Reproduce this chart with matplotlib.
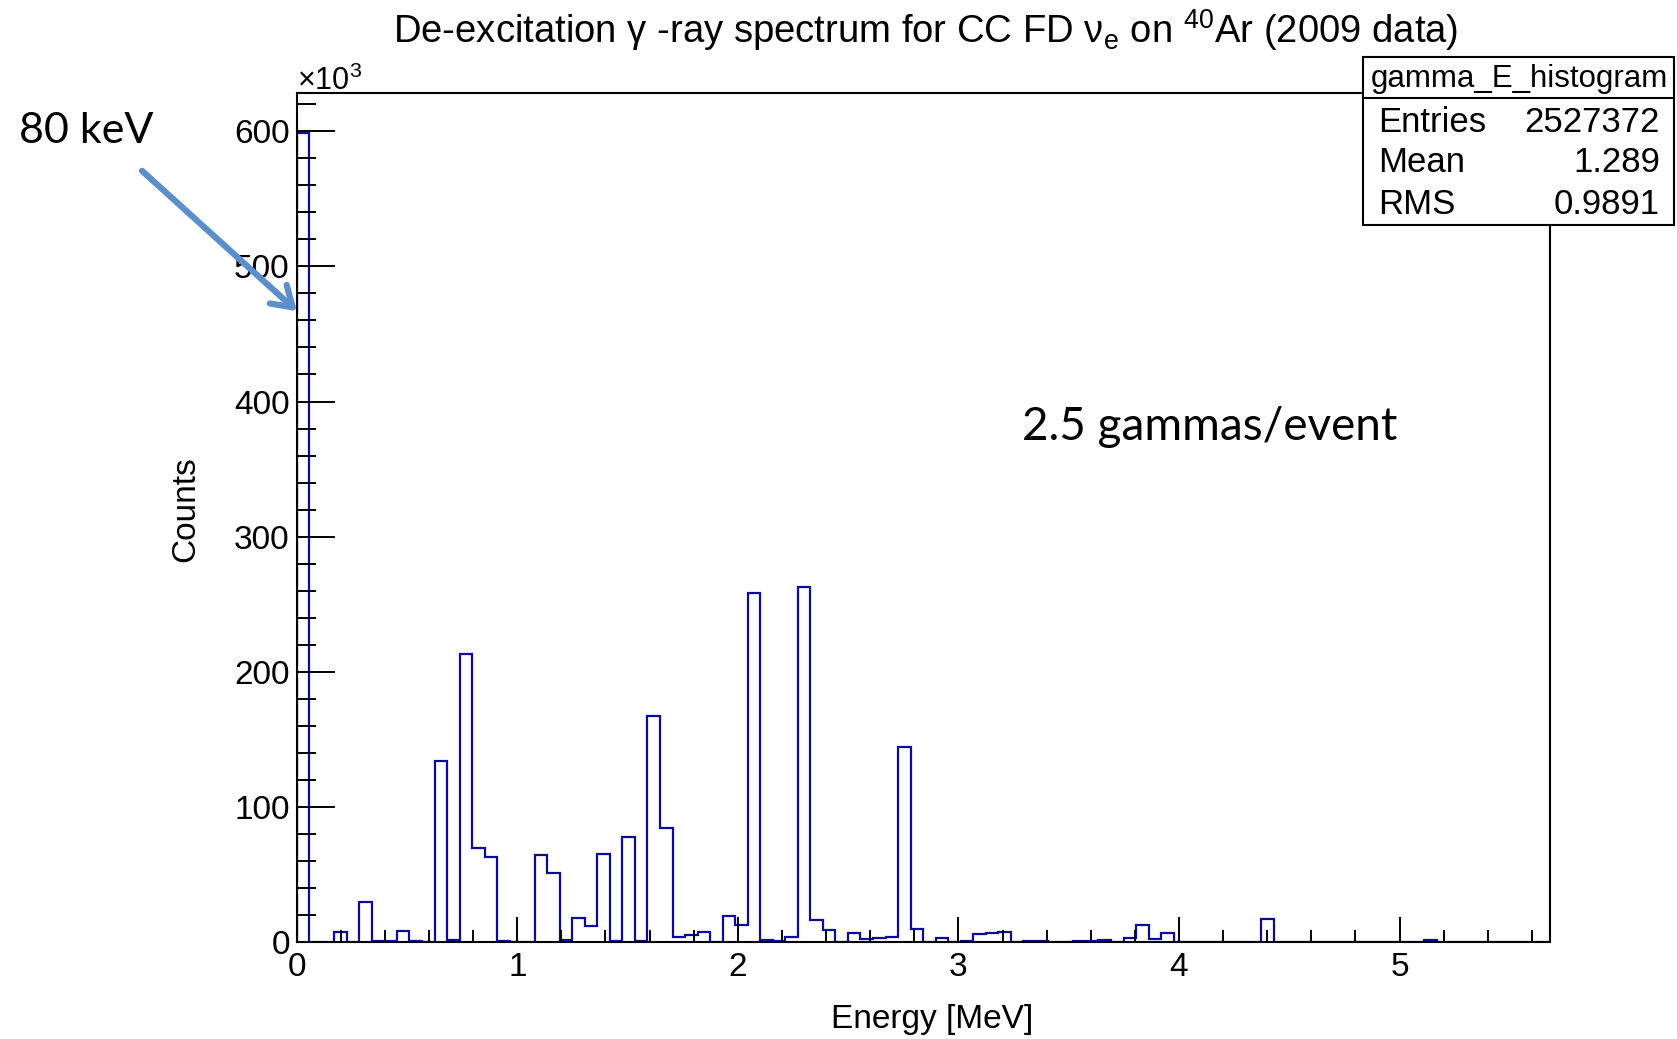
import numpy as np
import matplotlib
matplotlib.use("Agg")
import matplotlib.pyplot as plt
from matplotlib.ticker import MultipleLocator
from matplotlib.patches import Rectangle, FancyArrowPatch

plt.rcParams['font.family'] = ['Liberation Sans', 'DejaVu Sans']
plt.rcParams['mathtext.fontset'] = 'custom'
plt.rcParams['mathtext.rm'] = 'Liberation Sans'
plt.rcParams['mathtext.it'] = 'Liberation Sans'
plt.rcParams['mathtext.default'] = 'regular'

# histogram: 100 bins from 0 to 5.68 MeV, counts in units of 10^3
e_min, e_max, n_bins = 0.0, 5.68, 100
counts_k = [
    599, 0, 0, 7.4, 0, 29.6, 1, 1, 8.4, 1,
    0, 134.2, 1.5, 213.4, 70, 63.4, 1, 0, 0.5, 64.8,
    51.5, 1.5, 18, 12, 65, 1, 77.7, 1, 167.5, 84.6,
    3.7, 5.6, 7.6, 0, 19.5, 13, 258.3, 1.5, 1.2, 3.7,
    262.5, 16.3, 9.4, 0, 6.7, 2.5, 3.2, 4.2, 144.3, 9.9,
    0, 3.2, 0.5, 1.2, 6.4, 7.2, 7.4, 0, 0.7, 0.7,
    0.5, 0, 1, 1.2, 1.7, 0, 3, 12.8, 2.5, 7.2,
    0.3, 0, 0, 0, 0, 0, 0.5, 17.3, 0, 0,
    0, 0, 0, 0, 0, 0, 0, 0, 0, 0,
    1.5, 0, 0, 0, 0, 0, 0, 0, 0, 0,
]
y_max = 628

stats_name = "gamma_E_histogram"
stats_labels = ["Entries", "Mean", "RMS"]
stats_values = ["2527372", "1.289", "0.9891"]

W, H = 1677, 1039
fig = plt.figure(figsize=(W / 100, H / 100), dpi=100)
ax = fig.add_axes([296.7 / W, 1 - 942.3 / H, (1549.5 - 296.7) / W, (942.3 - 93.3) / H])

edges = np.linspace(e_min, e_max, n_bins + 1)
ax.stairs(counts_k, edges, color='#0a0aa0', linewidth=1.6, baseline=0)

ax.set_xlim(e_min, e_max)
ax.set_ylim(0, y_max)
ax.xaxis.set_major_locator(MultipleLocator(1))
ax.xaxis.set_minor_locator(MultipleLocator(0.2))
ax.yaxis.set_major_locator(MultipleLocator(100))
ax.yaxis.set_minor_locator(MultipleLocator(20))
ax.tick_params(axis='x', which='major', direction='in', length=18, width=1.4, labelsize=24, pad=7)
ax.tick_params(axis='x', which='minor', direction='in', length=9, width=1.4)
ax.tick_params(axis='y', which='major', direction='in', length=27, width=1.4, labelsize=24, pad=5)
ax.tick_params(axis='y', which='minor', direction='in', length=13.5, width=1.4)
for s in ax.spines.values():
    s.set_linewidth(1.5)

ax.set_xlabel("Energy [MeV]", fontsize=24)
ax.xaxis.set_label_coords(0.507, -0.073)
ax.set_ylabel("Counts", fontsize=24)
ax.yaxis.set_label_coords(-0.076, 0.51)
ax.text(0.0, 1.004, r"$\times10^{3}$", transform=ax.transAxes, fontsize=22, ha='left', va='baseline')

fig.text(926 / W, 1 - 30 / H,
         r"De-excitation $\gamma$ -ray spectrum for CC FD $\nu_{e}$ on $^{40}$Ar (2009 data)",
         fontsize=27.5, ha='center', va='center')

# stats box (figure pixel positions, top-left origin)
bx0, bx1, by0, by1, bsep = 1362.7, 1674, 57, 225, 98
fig.add_artist(Rectangle((bx0 / W, 1 - by1 / H), (bx1 - bx0) / W, (by1 - by0) / H,
                         transform=fig.transFigure, facecolor='white', edgecolor='black',
                         linewidth=1.5, zorder=5))
fig.add_artist(plt.Line2D([bx0 / W, bx1 / W], [1 - bsep / H, 1 - bsep / H],
                          transform=fig.transFigure, color='black', linewidth=1.5, zorder=6))
fig.text(1519 / W, 1 - 79 / H, stats_name, fontsize=22.5, ha='center', va='center', zorder=7)
for i, (lab, val) in enumerate(zip(stats_labels, stats_values)):
    yy = 1 - (122 + 41 * i) / H
    fig.text(1378 / W, yy, lab, fontsize=25, ha='left', va='center', zorder=7)
    fig.text(1660 / W, yy, val, fontsize=25, ha='right', va='center', zorder=7)

# annotations
fig.text(86 / W, 1 - 131 / H, "80 keV", fontsize=31, family='Lato', ha='center', va='center')
fig.text(1210 / W, 1 - 427 / H, "2.5 gammas/event", fontsize=33, family='Lato', ha='center', va='center')
arrow = FancyArrowPatch((140 / W, 1 - 169 / H), (299 / W, 1 - 313 / H),
                        transform=fig.transFigure, arrowstyle='->,head_length=0.7,head_width=0.45',
                        mutation_scale=20, color='#5b8fcc', linewidth=4.5, zorder=8)
fig.add_artist(arrow)

fig.savefig("out.png", dpi=100)
